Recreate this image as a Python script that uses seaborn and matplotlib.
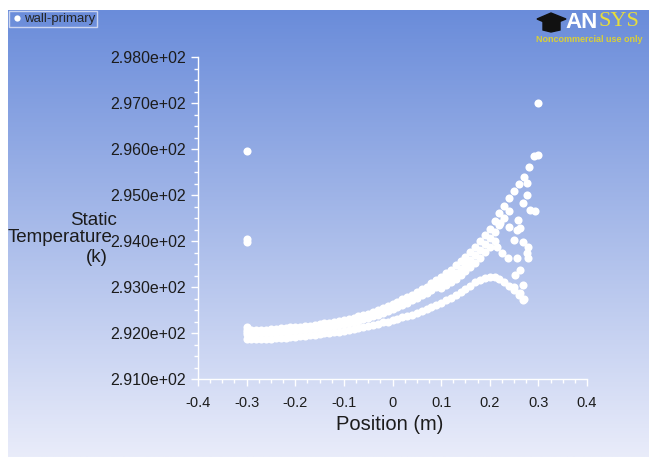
import numpy as np
import pandas as pd
import matplotlib
matplotlib.use("Agg")
import matplotlib.pyplot as plt
import matplotlib.patches as mpatches
import seaborn as sns

sns.set_theme(style="white")
plt.rcParams['font.family'] = ['Liberation Sans', 'DejaVu Sans']

# Posições (m) e temperaturas (K)
pos_sup = [-0.30, -0.29, -0.28, -0.27, -0.26, -0.25, -0.24, -0.23, -0.22, -0.21,
           -0.20, -0.19, -0.18, -0.17, -0.16, -0.15, -0.14, -0.13, -0.12, -0.11,
           -0.10, -0.09, -0.08, -0.07, -0.06, -0.05, -0.04, -0.03, -0.02, -0.01,
           0.00, 0.01, 0.02, 0.03, 0.04, 0.05, 0.06, 0.07, 0.08, 0.09,
           0.10, 0.11, 0.12, 0.13, 0.14, 0.15, 0.16, 0.17, 0.18, 0.19,
           0.20, 0.21, 0.22, 0.23, 0.24, 0.25, 0.26, 0.27, 0.28, 0.29]
temp_sup = [292.06, 292.06, 292.06, 292.07, 292.07, 292.08, 292.09, 292.10, 292.11, 292.12,
            292.13, 292.14, 292.15, 292.16, 292.18, 292.19, 292.21, 292.22, 292.24, 292.26,
            292.28, 292.30, 292.33, 292.36, 292.39, 292.42, 292.46, 292.50, 292.54, 292.59,
            292.63, 292.68, 292.73, 292.78, 292.83, 292.89, 292.95, 293.01, 293.08, 293.15,
            293.22, 293.30, 293.38, 293.47, 293.56, 293.66, 293.76, 293.87, 293.99, 294.12,
            294.27, 294.43, 294.60, 294.77, 294.93, 295.08, 295.23, 295.40, 295.60, 295.85]

pos_meio = [-0.30, -0.29, -0.28, -0.27, -0.26, -0.25, -0.24, -0.23, -0.22, -0.21,
            -0.20, -0.19, -0.18, -0.17, -0.16, -0.15, -0.14, -0.13, -0.12, -0.11,
            -0.10, -0.09, -0.08, -0.07, -0.06, -0.05, -0.04, -0.03, -0.02, -0.01,
            0.00, 0.01, 0.02, 0.03, 0.04, 0.05, 0.06, 0.07, 0.08, 0.09,
            0.10, 0.11, 0.12, 0.13, 0.14, 0.15, 0.16, 0.17, 0.18, 0.19,
            0.20, 0.21, 0.22, 0.23, 0.24]
temp_meio = [291.98, 291.98, 291.98, 291.99, 291.99, 292.00, 292.01, 292.02, 292.03, 292.04,
             292.05, 292.06, 292.07, 292.08, 292.09, 292.11, 292.12, 292.14, 292.16, 292.18,
             292.20, 292.22, 292.24, 292.27, 292.30, 292.33, 292.36, 292.40, 292.44, 292.48,
             292.52, 292.57, 292.61, 292.66, 292.71, 292.76, 292.82, 292.88, 292.94, 293.01,
             293.08, 293.15, 293.23, 293.31, 293.40, 293.49, 293.59, 293.70, 293.81, 293.93,
             294.06, 294.20, 294.35, 294.50, 294.65]

pos_base = [0.10, 0.11, 0.12, 0.13, 0.14, 0.15, 0.16, 0.17, 0.18, 0.19, 0.20, 0.21]
temp_base = [292.98, 293.04, 293.11, 293.18, 293.26, 293.34, 293.43, 293.53, 293.64, 293.76,
             293.88, 294.00]

pos_inf = [-0.30, -0.29, -0.28, -0.27, -0.26, -0.25, -0.24, -0.23, -0.22, -0.21,
           -0.20, -0.19, -0.18, -0.17, -0.16, -0.15, -0.14, -0.13, -0.12, -0.11,
           -0.10, -0.09, -0.08, -0.07, -0.06, -0.05, -0.04, -0.03, -0.02, -0.01,
           0.00, 0.01, 0.02, 0.03, 0.04, 0.05, 0.06, 0.07, 0.08, 0.09,
           0.10, 0.11, 0.12, 0.13, 0.14, 0.15, 0.16, 0.17, 0.18, 0.19,
           0.20, 0.21, 0.22, 0.23, 0.24, 0.25, 0.26, 0.27]
temp_inf = [291.86, 291.86, 291.87, 291.87, 291.88, 291.88, 291.89, 291.89, 291.90, 291.91,
            291.92, 291.93, 291.94, 291.95, 291.96, 291.97, 291.99, 292.00, 292.02, 292.03,
            292.05, 292.07, 292.09, 292.11, 292.13, 292.15, 292.18, 292.20, 292.23, 292.25,
            292.28, 292.31, 292.34, 292.37, 292.40, 292.44, 292.48, 292.52, 292.56, 292.61,
            292.66, 292.71, 292.77, 292.83, 292.89, 292.96, 293.03, 293.10, 293.16, 293.20,
            293.22, 293.21, 293.17, 293.11, 293.03, 292.93, 292.83, 292.74]

pos_ramos = [0.215, 0.225, 0.238, 0.256, 0.279, 0.263, 0.252, 0.269, 0.249, 0.259,
             0.263, 0.249, 0.269, 0.279, 0.277, 0.277, 0.269, 0.283, 0.294, 0.277,
             0.300, 0.300, 0.222, 0.240, 0.256, 0.262, 0.268]
temp_ramos = [293.87, 293.75, 293.63, 293.63, 293.63, 293.37, 293.26, 293.04, 293.00, 294.46,
              294.28, 294.02, 293.98, 293.87, 293.74, 295.00, 294.83, 294.67, 294.65, 295.26,
              295.87, 297.00, 294.39, 294.30, 294.24, 292.87, 292.72]

pos_isolados = [-0.30, -0.30, -0.30, -0.30, -0.30]
temp_isolados = [295.96, 294.04, 293.98, 292.13, 292.02]

df = pd.DataFrame({
    'Position': pos_sup + pos_meio + pos_base + pos_inf + pos_ramos + pos_isolados,
    'Temperature': temp_sup + temp_meio + temp_base + temp_inf + temp_ramos + temp_isolados,
})

W, H = 652, 457
fig = plt.figure(figsize=(W / 100, H / 100), dpi=100)
fig.patch.set_facecolor('white')

def fx(x):
    return x / W

def fy(y):
    return 1 - y / H

# fundo em degradê
bg = fig.add_axes([fx(8), 0, fx(641), 1 - 10 / H], zorder=0)
topo = np.array([106, 140, 218]) / 255
fundo = np.array([233, 236, 250]) / 255
t = np.linspace(0, 1, 256)[:, None]
grad = topo[None, :] * (1 - t) + fundo[None, :] * t
bg.imshow(grad[:, None, :].repeat(2, axis=1), aspect='auto', extent=[0, 1, 0, 1])
bg.set_axis_off()

ax = fig.add_axes([fx(198), fy(379), fx(587 - 198), (379 - 57) / H], zorder=2)
ax.set_facecolor('none')

sns.scatterplot(data=df, x='Position', y='Temperature', ax=ax, color='white',
                s=34, linewidth=0, legend=False, zorder=3, clip_on=False)

ax.set_xlim(-0.4, 0.4)
ax.set_ylim(291, 298)
ax.set_xticks([-0.4, -0.3, -0.2, -0.1, 0, 0.1, 0.2, 0.3, 0.4])
ax.set_xticklabels(['-0.4', '-0.3', '-0.2', '-0.1', '0', '0.1', '0.2', '0.3', '0.4'])
ax.set_yticks(np.arange(291, 299))
ax.set_yticklabels([f"{v / 100:.3f}e+02" for v in np.arange(291, 299)])
ax.xaxis.set_minor_locator(matplotlib.ticker.AutoMinorLocator(4))
ax.yaxis.set_minor_locator(matplotlib.ticker.AutoMinorLocator(4))

for s in ['top', 'right']:
    ax.spines[s].set_visible(False)
for s in ['left', 'bottom']:
    ax.spines[s].set_color('white')
    ax.spines[s].set_linewidth(1)

ax.tick_params(which='major', direction='out', length=5, width=1, color='white',
               labelsize=10.5, labelcolor='#1c1c1c', pad=4,
               bottom=True, left=True)
ax.tick_params(which='minor', direction='out', length=3, width=1, color='white',
               bottom=True, left=True)
ax.tick_params(axis='x', pad=7)
ax.tick_params(axis='y', labelsize=11.5)
ax.set_xlabel('')
ax.set_ylabel('')

fig.text(fx(390), fy(425), 'Position (m)', ha='center', va='center',
         fontsize=14.5, color='#1c1c1c')
fig.text(fx(94), fy(220), 'Static', ha='center', va='center', fontsize=13.5, color='#1c1c1c')
fig.text(fx(8), fy(238), 'Temperature', ha='left', va='center', fontsize=13.5, color='#1c1c1c')
fig.text(fx(97), fy(257), '(k)', ha='center', va='center', fontsize=13.5, color='#1c1c1c')

# legenda
handle = plt.Line2D([], [], marker='o', color='none', markerfacecolor='white',
                    markeredgecolor='none', markersize=4.5)
leg = fig.legend([handle], ['wall-primary'], loc='upper left',
                 bbox_to_anchor=(fx(9), fy(11)), fontsize=9.5, frameon=True,
                 fancybox=False, borderpad=0.15, handletextpad=0.1,
                 handlelength=0.9, borderaxespad=0)
leg.get_frame().set_facecolor('none')
leg.get_frame().set_edgecolor('#e4e8f6')
leg.get_frame().set_linewidth(1)

# logo ANSYS
cap = mpatches.Polygon([[fx(537), fy(19)], [fx(551), fy(13)], [fx(566), fy(19)],
                        [fx(551), fy(25)]], closed=True, transform=fig.transFigure,
                       color='#111111', zorder=5)
fig.patches.append(cap)
base = mpatches.Polygon([[fx(543), fy(22)], [fx(560), fy(22)], [fx(560), fy(30)],
                         [fx(551), fy(32)], [fx(543), fy(30)]], closed=True,
                        transform=fig.transFigure, color='#111111', zorder=5)
fig.patches.append(base)
fig.text(fx(565), fy(22), 'AN', ha='left', va='center', fontsize=16,
         fontweight='bold', color='white')
fig.text(fx(598), fy(22), 'SYS', ha='left', va='center', fontsize=16,
         family=['Liberation Serif', 'DejaVu Serif'], color='#e6dc3c')
fig.text(fx(536), fy(40), 'Noncommercial use only', ha='left', va='center',
         fontsize=6.5, fontweight='bold', color='#d9cf38')

plt.savefig("out.png", dpi=100)
